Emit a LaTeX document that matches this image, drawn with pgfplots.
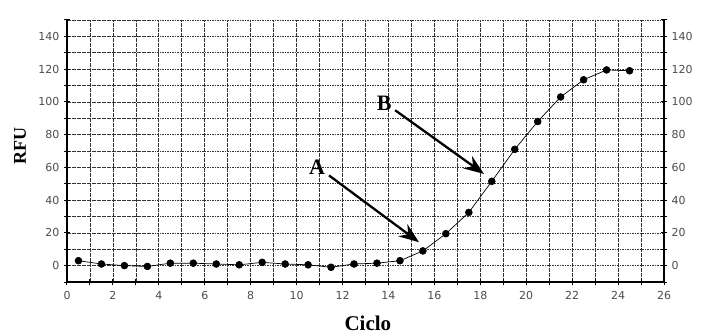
\documentclass[border=0pt]{standalone}
\usepackage{pgfplots}
\pgfplotsset{compat=1.18}
\usetikzlibrary{arrows.meta}
\usepackage{fontspec}
\setmainfont{Liberation Serif}
\newfontfamily\tickfont{DejaVu Sans}
\pgfplotstableread{
x y
0.5 3
1.5 1
2.5 0
3.5 -0.5
4.5 1.5
5.5 1.5
6.5 1
7.5 0.5
8.5 2
9.5 1
10.5 0.5
11.5 -1
12.5 1
13.5 1.5
14.5 3
15.5 9
16.5 19.5
17.5 32.5
18.5 51.5
19.5 71
20.5 88
21.5 103
22.5 113.5
23.5 119.5
24.5 119
}\rfudata
\begin{document}
\begin{tikzpicture}
\path[use as bounding box] (-67pt,-53pt) rectangle (653pt,282pt);
\pgfplotsset{common/.style={
  scale only axis, width=597pt, height=262pt, at={(0,0)}, anchor=south west,
  xmin=0, xmax=26, ymin=-10, ymax=150,
  ticklabel style={font=\tickfont\fontsize{11}{11}\selectfont, text=black!70},
  /pgf/number format/assume math mode=true,
  axis line style={line width=1.8pt, -},
  tick align=center, major tick length=6pt, minor tick length=6pt,
  tick style={black, line width=1pt},
}}
\begin{axis}[common,
  axis x line*=bottom, axis y line*=left,
  xtick={0,2,...,26}, minor xtick={1,3,...,25},
  ytick={0,20,...,140}, minor ytick={-10,10,30,...,150},
  grid=both,
  major grid style={dash pattern=on 1.6pt off 0.9pt, black!80, line width=0.7pt},
  minor grid style={dash pattern=on 1.6pt off 0.9pt, black!80, line width=0.7pt},
  xlabel={\bfseries\fontsize{21}{21}\selectfont Ciclo},
  ylabel={\bfseries\fontsize{18}{18}\selectfont RFU},
  xlabel style={at={(axis description cs:0.504,0)}, anchor=center, yshift=-41pt},
  ylabel style={at={(axis description cs:0,0.52)}, anchor=center, yshift=47pt},
  xticklabel style={yshift=-3pt},
  yticklabel style={xshift=-1pt},
]
\addplot[black, line width=0.7pt, mark=*, mark size=3.4pt, mark options={fill=black}] table[x=x, y=y] {\rfudata};
\draw[line width=2.3pt, -{Stealth[length=20pt,width=15pt]}] (axis cs:11.41,55.1) -- (axis cs:15.33,14.3);
\draw[line width=2.3pt, -{Stealth[length=20pt,width=15pt]}] (axis cs:14.29,94.9) -- (axis cs:18.16,56);
\node[font=\bfseries\fontsize{22}{22}\selectfont] at (axis cs:10.89,60) {A};
\node[font=\bfseries\fontsize{22}{22}\selectfont] at (axis cs:13.81,99.3) {B};
\end{axis}
\begin{axis}[common,
  axis x line=none, axis y line*=right,
  ytick={0,20,...,140}, minor ytick={-10,10,30,...,150},
  yticklabel style={xshift=1pt},
]
\end{axis}
\end{tikzpicture}
\end{document}
